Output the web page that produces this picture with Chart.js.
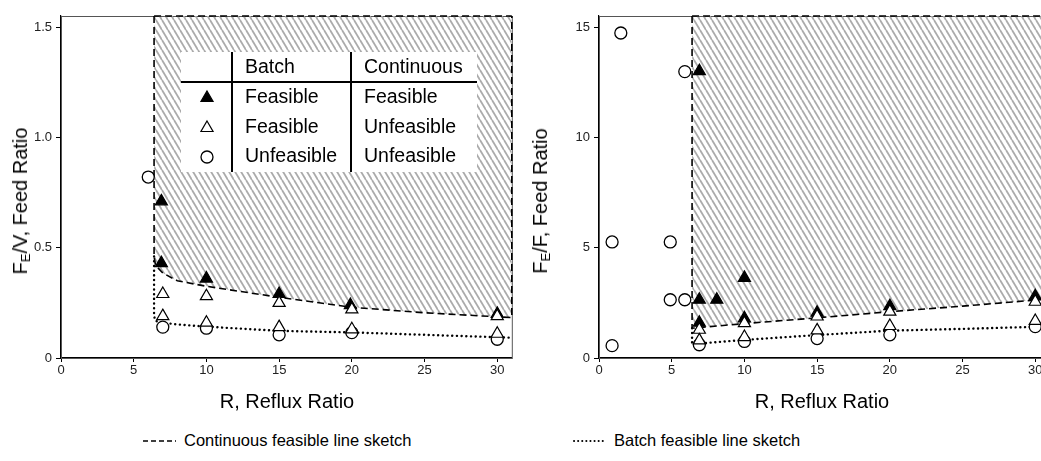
<!DOCTYPE html>
<html>
<head>
<meta charset="utf-8">
<script src="https://cdn.jsdelivr.net/npm/chart.js@4.4.1/dist/chart.umd.min.js"></script>
<style>
  html, body { margin: 0; padding: 0; background: #fff; width: 1041px; height: 461px; overflow: hidden; }
  body { position: relative; font-family: 'Liberation Sans', Arial, sans-serif; color: #000; }
  canvas { position: absolute; top: 0; }
  #leftChart { left: 0; }
  #rightChart { left: 520px; }
  .ytitle { position: absolute; font-size: 20px; white-space: nowrap; transform: translate(-50%, -50%) rotate(-90deg); }
  .ytitle sub { font-size: 13px; vertical-align: -3px; }
  .xtitle { position: absolute; font-size: 20px; white-space: nowrap; transform: translate(-50%, -50%); }
  .legend { position: absolute; top: 431px; font-size: 16.5px; white-space: nowrap; display: flex; align-items: center; }
  .legend svg { margin-right: 8px; }
</style>
</head>
<body>
<canvas id="leftChart" width="520" height="390"></canvas>
<canvas id="rightChart" width="538" height="390"></canvas>

<div class="ytitle" style="left:21px; top:201px;">F<sub>E</sub>/V, Feed Ratio</div>
<div class="ytitle" style="left:541px; top:201px;">F<sub>E</sub>/F, Feed Ratio</div>
<div class="xtitle" style="left:287px; top:401px;">R, Reflux Ratio</div>
<div class="xtitle" style="left:822px; top:401px;">R, Reflux Ratio</div>

<div class="legend" style="left:143px;">
  <svg width="33" height="6"><line x1="0" y1="3" x2="33" y2="3" stroke="#000" stroke-width="1.5" stroke-dasharray="5,3"/></svg>
  <span>Continuous feasible line sketch</span>
</div>
<div class="legend" style="left:573px;">
  <svg width="33" height="6"><line x1="1" y1="3" x2="33" y2="3" stroke="#000" stroke-width="2" stroke-linecap="round" stroke-dasharray="0.1,4"/></svg>
  <span>Batch feasible line sketch</span>
</div>

<script>
// ---- data: left panel (FE/V) ----
const xTicks = [0, 5, 10, 15, 20, 25, 30];
const lYTicks = [0, 0.5, 1, 1.5];
const lYLabels = ['0', '0.5', '1.0', '1.5'];

const lBothX = [6.9, 6.9, 10, 15, 19.9, 30];
const lBothY = [0.71, 0.43, 0.36, 0.29, 0.24, 0.2];
const lBatchX = [7, 7, 10, 10, 15, 15, 20, 20, 30, 30];
const lBatchY = [0.29, 0.19, 0.28, 0.16, 0.25, 0.14, 0.22, 0.13, 0.19, 0.11];
const lNoneX = [6, 7, 10, 15, 20, 30];
const lNoneY = [0.82, 0.14, 0.135, 0.105, 0.115, 0.085];

// sketched boundary lines
const lContX = [6.4, 6.4, 6.5, 7, 8, 10, 15, 20, 25, 31, 31];
const lContY = [1.55, 0.46, 0.42, 0.385, 0.35, 0.325, 0.275, 0.23, 0.205, 0.183, 1.55];
const lTopX = [6.4, 31];
const lTopY = [1.55, 1.55];
const lBatchLineX = [6.4, 6.4, 6.5, 7, 8, 10, 15, 20, 25, 31];
const lBatchLineY = [0.46, 0.19, 0.168, 0.16, 0.152, 0.142, 0.123, 0.116, 0.105, 0.092];

// ---- data: right panel (FE/F) ----
const rYTicks = [0, 5, 10, 15];
const rYLabels = ['0', '5', '10', '15'];

const rBothX = [6.9, 6.9, 8.1, 10, 6.9, 10, 15, 20, 30];
const rBothY = [13.0, 2.64, 2.64, 3.63, 1.6, 1.8, 2.05, 2.35, 2.8];
const rBatchX = [6.9, 6.9, 10, 10, 15, 15, 20, 20, 30, 30];
const rBatchY = [1.28, 0.8, 1.58, 0.95, 1.88, 1.25, 2.1, 1.45, 2.55, 1.68];
const rNoneX = [0.9, 0.9, 1.5, 4.9, 4.9, 5.9, 5.9, 6.9, 10, 15, 20, 30];
const rNoneY = [0.56, 5.26, 14.73, 5.26, 2.64, 2.64, 12.98, 0.6, 0.75, 0.88, 1.05, 1.42];

const rContX = [6.4, 6.4, 10, 15, 20, 25, 31, 31];
const rContY = [15.5, 1.35, 1.56, 1.82, 2.1, 2.35, 2.68, 15.5];
const rTopX = [6.4, 31];
const rTopY = [15.5, 15.5];
const rBatchLineX = [6.4, 6.4, 7, 10, 15, 20, 25, 31];
const rBatchLineY = [1.35, 0.7, 0.66, 0.82, 1.04, 1.24, 1.32, 1.43];

// legend table text
const tableHead = ['Batch', 'Continuous'];
const tableRows = [['Feasible', 'Feasible'], ['Feasible', 'Unfeasible'], ['Unfeasible', 'Unfeasible']];

const FONT = "'Liberation Sans', Arial, sans-serif";

function toPoints(xs, ys) {
    return xs.map((x, i) => ({ x: x, y: ys[i] }));
}

function makeHatch() {
    const c = document.createElement('canvas');
    c.width = 6;
    c.height = 10;
    const g = c.getContext('2d');
    g.strokeStyle = '#ababab';
    g.lineWidth = 1.8;
    [-6, 0, 6].forEach(dx => {
        g.beginPath();
        g.moveTo(dx, 0);
        g.lineTo(dx + 6, 10);
        g.stroke();
    });
    return g.createPattern(c, 'repeat');
}

// marker styles, reused by the table
const markFilledTri = { pointStyle: 'triangle', radius: 7, borderWidth: 1.2, fill: '#000' };
const markOpenTri = { pointStyle: 'triangle', radius: 7, borderWidth: 1.2, fill: '#fff' };
const markOpenCircle = { pointStyle: 'circle', radius: 6, borderWidth: 1.3, fill: '#fff' };

function pointSet(label, xs, ys, mark, order) {
    return {
        label: label,
        data: toPoints(xs, ys),
        showLine: false,
        pointStyle: mark.pointStyle,
        pointRadius: mark.radius,
        pointHoverRadius: mark.radius,
        pointBorderWidth: mark.borderWidth,
        pointBackgroundColor: mark.fill,
        pointBorderColor: '#000',
        order: order
    };
}

function lineSet(label, xs, ys, style, order) {
    return Object.assign({
        label: label,
        data: toPoints(xs, ys),
        showLine: true,
        pointRadius: 0,
        borderColor: '#000',
        fill: false,
        tension: 0,
        clip: false,
        order: order
    }, style);
}

const dashStyle = { borderWidth: 1.6, borderDash: [7, 4] };
const dotStyle = { borderWidth: 2.4, borderDash: [0.1, 4.6], borderCapStyle: 'round' };

// thin frame around plot area
const framePlugin = {
    id: 'frame',
    beforeDatasetsDraw(chart) {
        const a = chart.chartArea;
        const ctx = chart.ctx;
        ctx.save();
        ctx.strokeStyle = '#555';
        ctx.lineWidth = 1;
        ctx.strokeRect(a.left + 0.5, a.top + 0.5, a.right - a.left, a.bottom - a.top);
        ctx.restore();
    }
};

// the Batch / Continuous table inside the left plot
const tablePlugin = {
    id: 'feasTable',
    afterDatasetsDraw(chart) {
        const a = chart.chartArea;
        const ctx = chart.ctx;
        const x0 = a.left + 120, y0 = a.top + 36, w = 296, h = 120;
        const col1 = x0 + 51, col2 = x0 + 170, headH = 30;
        ctx.save();
        ctx.fillStyle = '#fff';
        ctx.fillRect(x0, y0, w, h);
        ctx.strokeStyle = '#000';
        ctx.lineWidth = 2;
        ctx.beginPath();
        ctx.moveTo(col1, y0); ctx.lineTo(col1, y0 + h);
        ctx.moveTo(col2, y0); ctx.lineTo(col2, y0 + h);
        ctx.moveTo(x0, y0 + headH); ctx.lineTo(x0 + w, y0 + headH);
        ctx.stroke();

        ctx.fillStyle = '#000';
        ctx.font = '19.5px ' + FONT;
        ctx.textAlign = 'left';
        ctx.textBaseline = 'middle';
        ctx.fillText(tableHead[0], col1 + 13, y0 + 16);
        ctx.fillText(tableHead[1], col2 + 13, y0 + 16);

        const marks = [markFilledTri, markOpenTri, markOpenCircle];
        const rowY = [y0 + 46, y0 + 76, y0 + 105];
        tableRows.forEach((row, i) => {
            ctx.fillText(row[0], col1 + 13, rowY[i]);
            ctx.fillText(row[1], col2 + 13, rowY[i]);
            const m = marks[i];
            ctx.fillStyle = m.fill;
            ctx.strokeStyle = '#000';
            ctx.lineWidth = m.borderWidth;
            Chart.helpers.drawPoint(ctx, { pointStyle: m.pointStyle, radius: m.radius, borderWidth: m.borderWidth, rotation: 0 }, x0 + 26, rowY[i]);
            ctx.fillStyle = '#000';
        });
        ctx.restore();
    }
};

function buildChart(canvasId, cfg) {
    const ctx = document.getElementById(canvasId).getContext('2d');
    const hatch = makeHatch();
    return new Chart(ctx, {
        type: 'scatter',
        data: {
            datasets: [
                pointSet('Feasible / Feasible', cfg.bothX, cfg.bothY, markFilledTri, 3),
                pointSet('Feasible / Unfeasible', cfg.batchX, cfg.batchY, markOpenTri, 2),
                pointSet('Unfeasible / Unfeasible', cfg.noneX, cfg.noneY, markOpenCircle, 4),
                lineSet('Batch feasible line sketch', cfg.batchLineX, cfg.batchLineY, dotStyle, 5),
                lineSet('Continuous top', cfg.topX, cfg.topY, dashStyle, 6),
                lineSet('Continuous feasible line sketch', cfg.contX, cfg.contY,
                    Object.assign({ fill: 'end', backgroundColor: hatch }, dashStyle), 7)
            ]
        },
        options: {
            responsive: false,
            animation: false,
            layout: { padding: { left: 0, right: 7, top: 16, bottom: 0 } },
            plugins: {
                legend: { display: false },
                tooltip: { enabled: false }
            },
            scales: {
                x: {
                    type: 'linear',
                    min: 0,
                    max: 31,
                    afterBuildTicks: (scale) => { scale.ticks = xTicks.map(v => ({ value: v })); },
                    afterFit: (scale) => { scale.height = 32; },
                    grid: { display: true, drawOnChartArea: false, tickLength: 4, color: '#000' },
                    border: { display: true, color: '#000', width: 1.2 },
                    ticks: {
                        padding: 1,
                        color: '#222',
                        font: { family: FONT, size: 13 },
                        maxRotation: 0
                    }
                },
                y: {
                    type: 'linear',
                    min: 0,
                    max: cfg.yMax,
                    afterBuildTicks: (scale) => { scale.ticks = cfg.yTicks.map(v => ({ value: v })); },
                    afterFit: (scale) => { scale.width = cfg.yWidth; },
                    grid: { display: true, drawOnChartArea: false, tickLength: 5, color: '#000' },
                    border: { display: true, color: '#000', width: 1.2 },
                    ticks: {
                        padding: 4,
                        color: '#222',
                        font: { family: FONT, size: 13 },
                        callback: function (value, index) {
                            return cfg.yLabels[index];
                        }
                    }
                }
            }
        },
        plugins: cfg.withTable ? [framePlugin, tablePlugin] : [framePlugin]
    });
}

buildChart('leftChart', {
    bothX: lBothX, bothY: lBothY,
    batchX: lBatchX, batchY: lBatchY,
    noneX: lNoneX, noneY: lNoneY,
    contX: lContX, contY: lContY,
    topX: lTopX, topY: lTopY,
    batchLineX: lBatchLineX, batchLineY: lBatchLineY,
    yTicks: lYTicks, yLabels: lYLabels,
    yMax: 1.55, yWidth: 61, withTable: true
});

buildChart('rightChart', {
    bothX: rBothX, bothY: rBothY,
    batchX: rBatchX, batchY: rBatchY,
    noneX: rNoneX, noneY: rNoneY,
    contX: rContX, contY: rContY,
    topX: rTopX, topY: rTopY,
    batchLineX: rBatchLineX, batchLineY: rBatchLineY,
    yTicks: rYTicks, yLabels: rYLabels,
    yMax: 15.5, yWidth: 79, withTable: false
});
</script>
</body>
</html>
